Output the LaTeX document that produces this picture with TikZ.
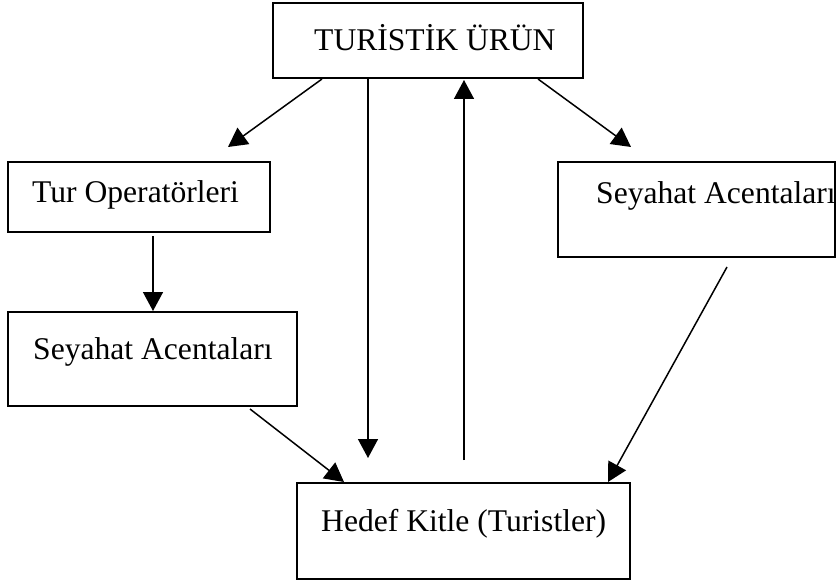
\documentclass[tikz,border=0pt]{standalone}
\usepackage{fontspec}
\setmainfont{Liberation Serif}
\usetikzlibrary{arrows.meta}
\begin{document}
\begin{tikzpicture}[x=1pt,y=-1pt,
  boxnode/.style={draw=black,line width=1.7pt,rectangle,inner sep=0pt},
  lbl/.style={anchor=base west,inner sep=0pt,font=\fontsize{31.6}{36}\selectfont},
  conn/.style={line width=1.5pt,-{Triangle[length=19pt,width=20pt]}}]
\useasboundingbox (0,0) rectangle (836,583);
% boxes
\node[boxnode,minimum width=310pt,minimum height=75pt] (top) at (428,40.5) {};
\node[boxnode,minimum width=262pt,minimum height=70pt] (tur) at (139,197) {};
\node[boxnode,minimum width=289pt,minimum height=94pt] (sa1) at (152.5,359) {};
\node[boxnode,minimum width=277pt,minimum height=95pt] (sa2) at (696.5,209.5) {};
\node[boxnode,minimum width=333pt,minimum height=96pt] (hk) at (463.5,531) {};
% labels
\node[lbl] (ttop) at (314,51) {TURİSTİK ÜRÜN};
\node[lbl] (ttur) at (32,203) {Tur Operatörleri};
\node[lbl] (tsa1) at (33,359) {Seyahat Acentaları};
\node[lbl] (tsa2) at (596,204) {Seyahat Acentaları};
\node[lbl] (thk) at (321,531) {Hedef Kitle (Turistler)};
% connector endpoints
\coordinate (a1s) at (322,79);  \coordinate (a1e) at (228,147);
\coordinate (a2s) at (538,79);  \coordinate (a2e) at (631,147);
\coordinate (a3s) at (368,79);  \coordinate (a3e) at (368,458);
\coordinate (a4s) at (464,460); \coordinate (a4e) at (464,80);
\coordinate (a5s) at (153,236); \coordinate (a5e) at (153,311);
\coordinate (a6s) at (250,409); \coordinate (a6e) at (344,482);
\coordinate (a7s) at (727,267); \coordinate (a7e) at (608,482);
\draw[conn] (a1s) -- (a1e);
\draw[conn] (a2s) -- (a2e);
\draw[conn] (a3s) -- (a3e);
\draw[conn] (a4s) -- (a4e);
\draw[conn] (a5s) -- (a5e);
\draw[conn] (a6s) -- (a6e);
\draw[conn] (a7s) -- (a7e);
\end{tikzpicture}
\end{document}
